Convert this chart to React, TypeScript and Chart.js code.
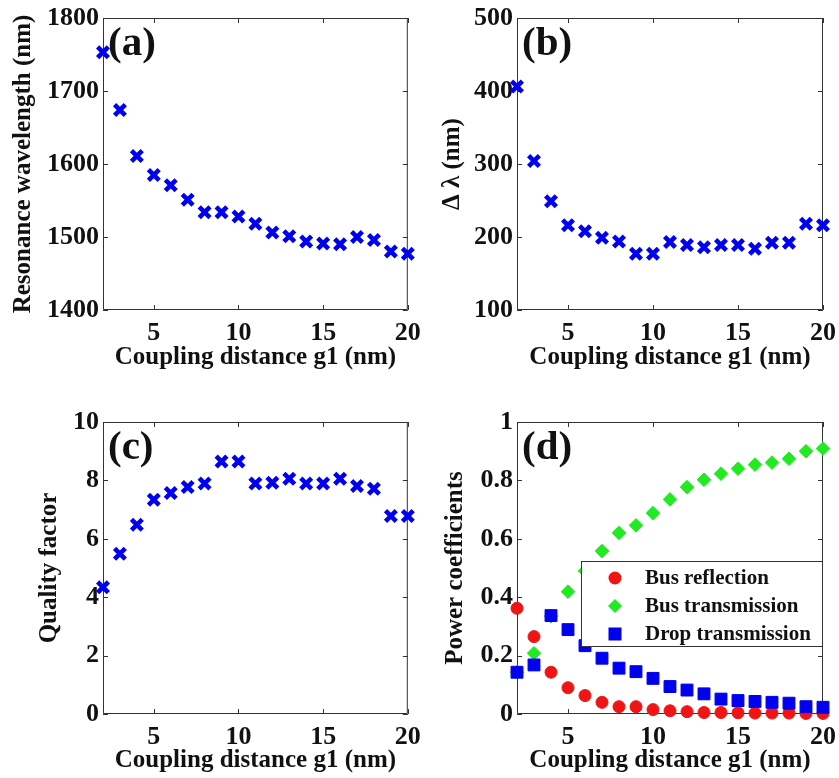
import React, { useEffect, useRef } from 'react';
import { Chart, registerables } from 'chart.js';

Chart.register(...registerables);

// ---------------- data ----------------
const gapNm = [2, 3, 4, 5, 6, 7, 8, 9, 10, 11, 12, 13, 14, 15, 16, 17, 18, 19, 20];
const xTickValues = [5, 10, 15, 20];

const resonanceWavelengthNm = [1753, 1674, 1611, 1585, 1571, 1551, 1534, 1534, 1528, 1518, 1506, 1501, 1494, 1491, 1490, 1500, 1496, 1480, 1477];
const deltaLambdaNm = [406, 304, 249, 216, 208, 199, 194, 177, 177, 193, 189, 186, 189, 189, 184, 192, 192, 218, 216];
const qualityFactor = [4.34, 5.49, 6.48, 7.34, 7.57, 7.77, 7.89, 8.65, 8.65, 7.89, 7.92, 8.06, 7.89, 7.89, 8.06, 7.81, 7.71, 6.78, 6.78];

const busReflection = [0.362, 0.265, 0.143, 0.09, 0.063, 0.04, 0.025, 0.025, 0.015, 0.011, 0.008, 0.005, 0.005, 0.004, 0.003, 0.003, 0.003, 0.002, 0.002];
const busTransmission = [0.143, 0.208, 0.335, 0.419, 0.49, 0.558, 0.62, 0.646, 0.688, 0.735, 0.777, 0.802, 0.823, 0.84, 0.854, 0.861, 0.874, 0.9, 0.909];
const dropTransmission = [0.143, 0.168, 0.337, 0.289, 0.234, 0.191, 0.157, 0.145, 0.122, 0.094, 0.082, 0.069, 0.051, 0.046, 0.043, 0.04, 0.037, 0.025, 0.023];

const yTicksA = [1400, 1500, 1600, 1700, 1800];
const yTicksB = [100, 200, 300, 400, 500];
const yTicksC = [0, 2, 4, 6, 8, 10];
const yTicksD = [0, 0.2, 0.4, 0.6, 0.8, 1];

const legendLabels = ['Bus reflection', 'Bus transmission', 'Drop transmission'];

// ---------------- styles ----------------
const FONT = '"Liberation Serif", "Times New Roman", serif';
const BLUE = '#0000f0';
const RED = '#f01414';
const GREEN = '#22ea22';
const FRAME = '#333333';
const TEXT = '#111111';

const toPoints = (ys: number[]) => gapNm.map((x, i) => ({ x, y: ys[i] }));

const crossSet = (ys: number[]) => ({
  data: toPoints(ys),
  pointStyle: 'crossRot',
  pointRadius: 7.6,
  pointBorderWidth: 4.6,
  pointBorderColor: BLUE,
  pointBackgroundColor: BLUE,
  showLine: false,
  clip: false,
});

const framePlugin = {
  id: 'frame',
  beforeDatasetsDraw(chart: any) {
    const { ctx, chartArea: a, scales } = chart;
    const ys = scales.y, xs = scales.x;
    ctx.save();
    ctx.strokeStyle = FRAME;
    ctx.lineWidth = 1;
    ctx.beginPath();
    ctx.rect(a.left + 0.5, a.top + 0.5, a.right - a.left - 1, a.bottom - a.top - 1);
    const L = 5;
    xs.ticks.forEach((t: any) => {
      const px = Math.round(xs.getPixelForValue(t.value)) + 0.5;
      ctx.moveTo(px, a.bottom);
      ctx.lineTo(px, a.bottom - L);
      ctx.moveTo(px, a.top);
      ctx.lineTo(px, a.top + L);
    });
    ys.ticks.forEach((t: any) => {
      const py = Math.round(ys.getPixelForValue(t.value)) + 0.5;
      ctx.moveTo(a.left, py);
      ctx.lineTo(a.left + L, py);
      ctx.moveTo(a.right, py);
      ctx.lineTo(a.right - L, py);
    });
    ctx.stroke();
    ctx.restore();
  },
  afterDatasetsDraw(chart: any, _args: any, opts: any) {
    const { ctx, chartArea: a } = chart;
    ctx.save();
    if (opts.legend) {
      const w = 242, h = 86;
      const r = a.right, l = r - w, t = a.top + 139;
      ctx.fillStyle = '#ffffff';
      ctx.fillRect(l, t, w, h);
      ctx.strokeStyle = FRAME;
      ctx.lineWidth = 1;
      ctx.strokeRect(l + 0.5, t + 0.5, w - 1, h - 1);
      const rows = [t + 17, t + 45, t + 73];
      const mx = l + 34;
      ctx.fillStyle = RED;
      ctx.beginPath();
      ctx.arc(mx, rows[0], 6.5, 0, Math.PI * 2);
      ctx.fill();
      ctx.fillStyle = GREEN;
      ctx.beginPath();
      ctx.moveTo(mx, rows[1] - 7);
      ctx.lineTo(mx + 7, rows[1]);
      ctx.lineTo(mx, rows[1] + 7);
      ctx.lineTo(mx - 7, rows[1]);
      ctx.closePath();
      ctx.fill();
      ctx.fillStyle = BLUE;
      ctx.fillRect(mx - 6.5, rows[2] - 6.5, 13, 13);
      ctx.fillStyle = TEXT;
      ctx.font = `bold 21px ${FONT}`;
      ctx.textBaseline = 'middle';
      ctx.textAlign = 'left';
      opts.legend.forEach((txt: string, i: number) => ctx.fillText(txt, l + 64, rows[i] + 1));
    }
    if (opts.label) {
      ctx.fillStyle = TEXT;
      ctx.font = `bold 41px ${FONT}`;
      ctx.textBaseline = 'alphabetic';
      ctx.textAlign = 'left';
      ctx.fillText(opts.label, a.left + 5, a.top + 37);
    }
    ctx.restore();
  },
};

interface PanelSpec {
  left: number;
  top: number;
  width: number;
  height: number;
  area: { l: number; t: number; r: number; b: number };
  yMin: number;
  yMax: number;
  yTicks: number[];
  yTitle: string;
  yTitlePad: number;
  xTitlePad: number;
  label: string;
  datasets: any[];
  legend?: string[];
}

function Panel({ spec }: { spec: PanelSpec }) {
  const ref = useRef<HTMLCanvasElement | null>(null);
  useEffect(() => {
    if (!ref.current) return;
    const s = spec;
    const chart = new Chart(ref.current, {
      type: 'scatter',
      data: { datasets: s.datasets },
      plugins: [framePlugin],
      options: {
        responsive: false,
        animation: false,
        events: [],
        layout: { padding: { left: 0, top: s.area.t, right: s.width - s.area.r, bottom: 0 } },
        plugins: {
          legend: { display: false },
          tooltip: { enabled: false },
          frame: { label: s.label, legend: s.legend || null },
        } as any,
        scales: {
          x: {
            type: 'linear',
            min: 2,
            max: 20,
            afterBuildTicks: (sc: any) => {
              sc.ticks = xTickValues.map((v) => ({ value: v }));
            },
            afterFit: (sc: any) => {
              sc.height = s.height - s.area.b;
              sc.paddingLeft = 0;
              sc.paddingRight = 0;
              sc.paddingTop = 0;
              sc.paddingBottom = 0;
            },
            grid: { display: false, drawTicks: false },
            border: { display: false },
            ticks: {
              color: TEXT,
              font: { family: FONT, size: 26, weight: 'bold' },
              padding: 8,
              maxRotation: 0,
              autoSkip: false,
              callback: (v: any) => String(v),
            },
            title: {
              display: true,
              text: 'Coupling distance g1 (nm)',
              color: TEXT,
              font: { family: FONT, size: 25, weight: 'bold' },
              padding: { top: 0, bottom: s.xTitlePad },
            },
          },
          y: {
            type: 'linear',
            min: s.yMin,
            max: s.yMax,
            afterBuildTicks: (sc: any) => {
              sc.ticks = s.yTicks.map((v) => ({ value: v }));
            },
            afterFit: (sc: any) => {
              sc.width = s.area.l;
              sc.paddingLeft = 0;
              sc.paddingRight = 0;
              sc.paddingTop = 0;
              sc.paddingBottom = 0;
            },
            grid: { display: false, drawTicks: false },
            border: { display: false },
            ticks: {
              color: TEXT,
              font: { family: FONT, size: 26, weight: 'bold' },
              padding: 4,
              autoSkip: false,
              callback: (v: any) => String(v),
            },
            title: {
              display: true,
              text: s.yTitle,
              color: TEXT,
              font: { family: FONT, size: 25, weight: 'bold' },
              padding: { top: s.yTitlePad, bottom: 0 },
            },
          },
        },
      } as any,
    });
    return () => chart.destroy();
  }, [spec]);
  return (
    <canvas
      ref={ref}
      width={spec.width}
      height={spec.height}
      style={{ position: 'absolute', left: spec.left, top: spec.top, width: spec.width, height: spec.height }}
    />
  );
}

const panels: PanelSpec[] = [
  {
    left: 0, top: 0, width: 420, height: 389,
    area: { l: 103, t: 18, r: 411, b: 310 },
    yMin: 1400, yMax: 1800, yTicks: yTicksA,
    yTitle: 'Resonance wavelength (nm)', yTitlePad: 9, xTitlePad: 16,
    label: '(a)',
    datasets: [crossSet(resonanceWavelengthNm)],
  },
  {
    left: 420, top: 0, width: 419, height: 389,
    area: { l: 97, t: 18, r: 403, b: 310 },
    yMin: 100, yMax: 500, yTicks: yTicksB,
    yTitle: 'Δ λ (nm)', yTitlePad: 18, xTitlePad: 16,
    label: '(b)',
    datasets: [crossSet(deltaLambdaNm)],
  },
  {
    left: 0, top: 389, width: 420, height: 389,
    area: { l: 103, t: 33, r: 411, b: 325 },
    yMin: 0, yMax: 10, yTicks: yTicksC,
    yTitle: 'Quality factor', yTitlePad: 35, xTitlePad: 2,
    label: '(c)',
    datasets: [crossSet(qualityFactor)],
  },
  {
    left: 420, top: 389, width: 419, height: 389,
    area: { l: 97, t: 33, r: 403, b: 325 },
    yMin: 0, yMax: 1, yTicks: yTicksD,
    yTitle: 'Power coefficients', yTitlePad: 21, xTitlePad: 2,
    label: '(d)',
    legend: legendLabels,
    datasets: [
      {
        label: legendLabels[0],
        order: 2,
        data: toPoints(busReflection),
        pointStyle: 'circle',
        pointRadius: 6,
        pointBorderWidth: 1,
        pointBorderColor: RED,
        pointBackgroundColor: RED,
        showLine: false,
        clip: false,
      },
      {
        label: legendLabels[1],
        order: 1,
        data: toPoints(busTransmission),
        pointStyle: 'rectRot',
        pointRadius: 6.8,
        pointBorderWidth: 1,
        pointBorderColor: GREEN,
        pointBackgroundColor: GREEN,
        showLine: false,
        clip: false,
      },
      {
        label: legendLabels[2],
        order: 0,
        data: toPoints(dropTransmission),
        pointStyle: 'rect',
        pointRadius: 8.4,
        pointBorderWidth: 1,
        pointBorderColor: BLUE,
        pointBackgroundColor: BLUE,
        showLine: false,
        clip: false,
      },
    ],
  },
];

export default function App() {
  return (
    <div style={{ position: 'absolute', left: 0, top: 0, width: 839, height: 778, background: '#ffffff', overflow: 'hidden' }}>
      {panels.map((p, i) => (
        <Panel key={i} spec={p} />
      ))}
    </div>
  );
}
